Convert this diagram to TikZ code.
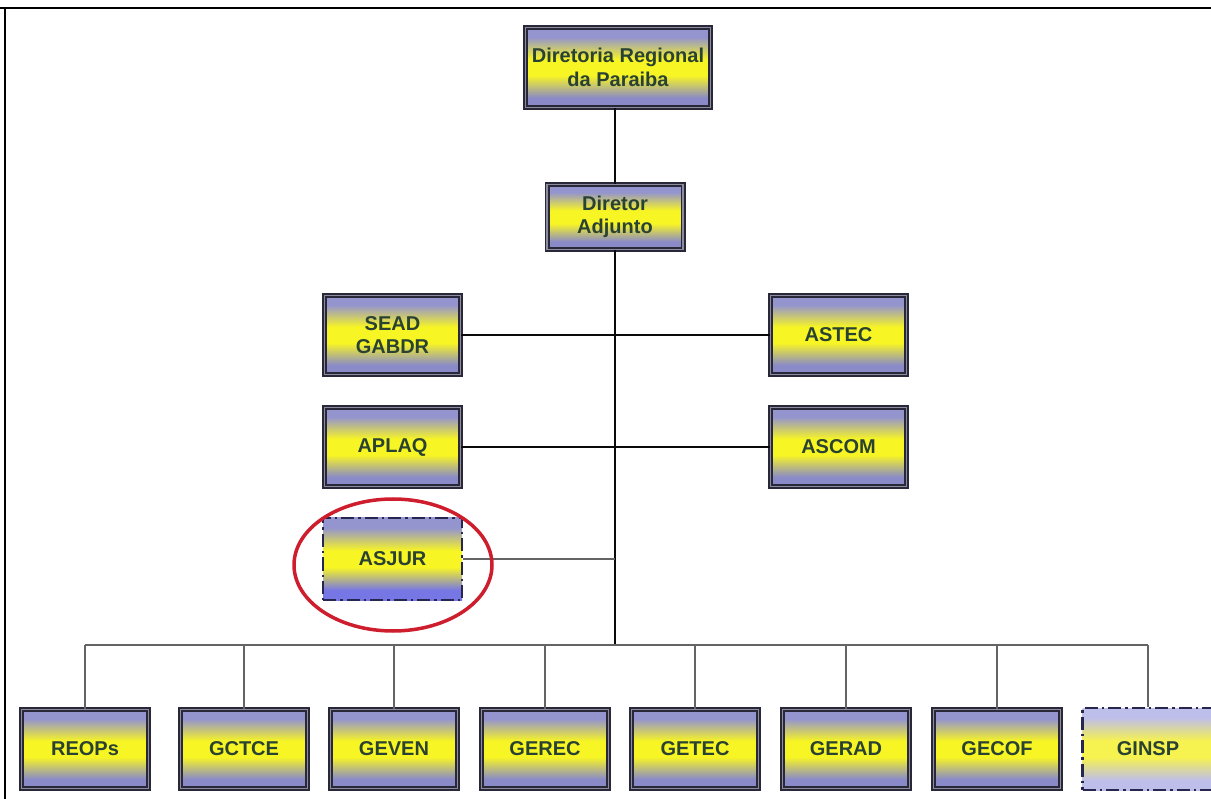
\documentclass[tikz,border=0pt]{standalone}
\usepackage{fontspec}
\setmainfont{Liberation Sans}
\usetikzlibrary{shapes.geometric}
\definecolor{lav}{RGB}{148,148,206}
\definecolor{lavd}{RGB}{138,138,200}
\definecolor{lavb}{RGB}{118,118,228}
\definecolor{lavl}{RGB}{190,190,234}
\definecolor{ylw}{RGB}{248,245,36}
\definecolor{ylwl}{RGB}{246,242,80}
\definecolor{txt}{RGB}{42,66,50}
\definecolor{bord}{RGB}{40,40,56}
\definecolor{bordin}{RGB}{140,140,158}
\definecolor{dashbord}{RGB}{38,38,78}
\definecolor{conn}{RGB}{10,10,10}
\definecolor{conng}{RGB}{100,100,100}
\definecolor{ovalred}{RGB}{206,30,46}
\pgfdeclareverticalshading{unitshade}{100bp}{color(0bp)=(lavd); color(25bp)=(lavd); color(31bp)=(lavd); color(45bp)=(ylw); color(55bp)=(ylw); color(69bp)=(lav); color(75bp)=(lav); color(100bp)=(lav)}
\pgfdeclareverticalshading{asjurshade}{100bp}{color(0bp)=(lavb); color(25bp)=(lavb); color(31bp)=(lavb); color(45bp)=(ylw); color(55bp)=(ylw); color(69bp)=(lav); color(75bp)=(lav); color(100bp)=(lav)}
\pgfdeclareverticalshading{ginspshade}{100bp}{color(0bp)=(lavl); color(25bp)=(lavl); color(31bp)=(lavl); color(45bp)=(ylwl); color(55bp)=(ylwl); color(69bp)=(lavl); color(75bp)=(lavl); color(100bp)=(lavl)}
\begin{document}
\begin{tikzpicture}[x=1pt,y=-1pt,
  unitbox/.style={rectangle, inner sep=0pt, minimum width=136pt, minimum height=79pt,
    shade, shading=unitshade,
    draw=bord, double=bordin, double distance=1.2pt, line width=1.9pt,
    font=\fontsize{20}{23.5}\selectfont\bfseries, text=txt, align=center},
  lowbox/.style={unitbox, minimum width=127pt, minimum height=79pt},
  dashbox/.style={rectangle, inner sep=0pt, minimum width=139pt, minimum height=82pt,
    shade, draw=dashbord, line width=2.2pt, dash pattern=on 13pt off 4pt on 2.5pt off 4pt,
    font=\fontsize{20}{23.5}\selectfont\bfseries, text=txt, align=center},
  link/.style={draw=conn, line width=2pt},
  linkg/.style={draw=conng, line width=2.4pt},
  frameline/.style={draw=black, line width=2.2pt}]
\useasboundingbox (0,0) rectangle (1211,799);
\clip (0,0) rectangle (1211,799);
\fill[white] (0,0) rectangle (1211,799);
% frame
\coordinate (fTL) at (0,8);
\coordinate (fTR) at (1211,8);
\coordinate (fL) at (5,8);
\coordinate (fB) at (5,799);
\draw[frameline] (fTL) -- (fTR);
\draw[frameline, line width=1.6pt] (fL) -- (fB);
% nodes
\node[unitbox, minimum width=185pt, minimum height=80pt] (dr) at (618,67.5) {Diretoria Regional\\da Paraiba};
\node[unitbox, minimum height=65pt] (da) at (615,217) {Diretor\\Adjunto};
\node[unitbox] (sead) at (392.5,335) {SEAD\\GABDR};
\node[unitbox] (astec) at (838.5,335) {ASTEC};
\node[unitbox] (aplaq) at (392.5,447) {APLAQ};
\node[unitbox] (ascom) at (838.5,447) {ASCOM};
\node[dashbox, shading=asjurshade] (asjur) at (392.5,559) {ASJUR};
\node[lowbox] (reops) at (85,749) {REOPs};
\node[lowbox] (gctce) at (244,749) {GCTCE};
\node[lowbox] (geven) at (394,749) {GEVEN};
\node[lowbox] (gerec) at (545,749) {GEREC};
\node[lowbox] (getec) at (695,749) {GETEC};
\node[lowbox] (gerad) at (846,749) {GERAD};
\node[lowbox] (gecof) at (997,749) {GECOF};
\node[dashbox, shading=ginspshade, minimum width=131pt, minimum height=82pt] (ginsp) at (1148,749) {GINSP};
% trunk and bus
\coordinate (trunk) at (615,645);
\coordinate (busL) at (85,645);
\coordinate (busR) at (1148,645);
% connectors
\draw[link] (da.north |- dr.south) -- (da.north);
\draw[link] (da.south) -- (trunk);
\draw[link] (sead.east) -- (astec.west);
\draw[link] (aplaq.east) -- (ascom.west);
\draw[linkg] (asjur.east) -- (asjur.east -| trunk);
\draw[linkg] (busL) -- (busR);
\foreach \n in {reops,gctce,geven,gerec,getec,gerad,gecof,ginsp}{
  \draw[linkg] (\n.north |- trunk) -- (\n.north);
}
% highlight ellipse
\node[draw=ovalred, line width=3.5pt, ellipse, minimum width=198pt, minimum height=132pt, inner sep=0pt] (mark) at (393,565) {};
\end{tikzpicture}
\end{document}
